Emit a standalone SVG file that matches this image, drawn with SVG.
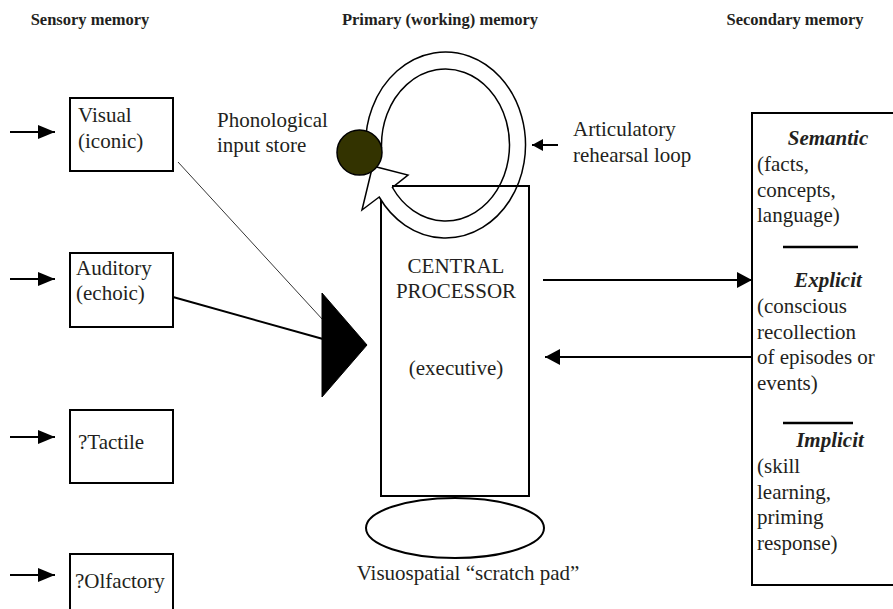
<svg xmlns="http://www.w3.org/2000/svg" width="893" height="609" viewBox="0 0 893 609">
<style>
text{font-family:"Liberation Serif","Times New Roman",serif;font-size:21px;fill:#231f20}
.h{font-weight:bold;font-size:16.5px}
.bi{font-weight:bold;font-style:italic}
.box{fill:#fff;stroke:#000;stroke-width:2}
.ln{stroke:#000;stroke-width:2;fill:none}
</style>
<defs>
<marker id="a1" markerUnits="userSpaceOnUse" markerWidth="17" markerHeight="14" refX="17" refY="7" orient="auto"><path d="M0,0 L17,7 L0,14 z" fill="#000"/></marker>
<marker id="a2" markerUnits="userSpaceOnUse" markerWidth="15" markerHeight="16" refX="15" refY="8" orient="auto"><path d="M0,0 L15,8 L0,16 z" fill="#000"/></marker>
<marker id="a3" markerUnits="userSpaceOnUse" markerWidth="11" markerHeight="12" refX="11" refY="6" orient="auto"><path d="M0,0 L11,6 L0,12 z" fill="#000"/></marker>
</defs>
<rect width="893" height="609" fill="#fff"/>
<g id="headers">
<text class="h" x="90" y="25" text-anchor="middle">Sensory memory</text>
<text class="h" x="440" y="25" text-anchor="middle">Primary (working) memory</text>
<text class="h" x="795" y="25" text-anchor="middle">Secondary memory</text>
</g>
<g id="visual"><rect class="box" x="70" y="98" width="103" height="73"/><text x="78" y="122">Visual</text><text x="78" y="148">(iconic)</text></g>
<g id="auditory"><rect class="box" x="70" y="253" width="103" height="74"/><text x="76" y="275">Auditory</text><text x="76" y="300">(echoic)</text></g>
<g id="tactile"><rect class="box" x="70" y="410" width="103" height="73"/><text x="78" y="449">?Tactile</text></g>
<g id="olfactory"><rect class="box" x="70" y="554" width="103" height="70"/><text x="75" y="588">?Olfactory</text></g>
<g id="central">
<rect class="box" x="381" y="186" width="148" height="310"/>
<text x="456" y="273" text-anchor="middle">CENTRAL</text>
<text x="456" y="298" text-anchor="middle">PROCESSOR</text>
<text x="456" y="375" text-anchor="middle">(executive)</text>
</g>
<g id="loop">
<path d="M365.55,148.25 A80,93 0 1 1 379.18,197 L362,210 L372.6,166 L408,175 L392.44,187.5 A64,76 0 1 0 381.54,147.65 Z" fill="#fff" stroke="#000" stroke-width="1.5"/>
<line x1="392" y1="186" x2="529" y2="186" stroke="#000" stroke-width="2"/>
</g>
<g id="phonological">
<circle cx="359.5" cy="152.5" r="22.5" fill="#333300" stroke="#000" stroke-width="1.5"/>
<text x="217" y="127">Phonological</text>
<text x="217" y="152">input store</text>
</g>
<g id="articulatory"><text x="573" y="136">Articulatory</text><text x="573" y="162">rehearsal loop</text></g>
<g id="scratchpad">
<ellipse cx="455" cy="528" rx="89" ry="30" fill="#fff" stroke="#000" stroke-width="2"/>
<text x="468" y="580" text-anchor="middle">Visuospatial “scratch pad”</text>
</g>
<g id="secondary">
<rect class="box" x="752" y="113" width="160" height="472"/>
<text class="bi" x="828" y="145" text-anchor="middle">Semantic</text>
<text x="757" y="171">(facts,</text>
<text x="757" y="197">concepts,</text>
<text x="757" y="222">language)</text>
<line x1="783" y1="247" x2="858" y2="247" stroke="#000" stroke-width="2.5"/>
<text class="bi" x="828" y="287" text-anchor="middle">Explicit</text>
<text x="757" y="313">(conscious</text>
<text x="757" y="339">recollection</text>
<text x="757" y="364">of episodes or</text>
<text x="757" y="390">events)</text>
<line x1="783" y1="423" x2="853" y2="423" stroke="#000" stroke-width="2.5"/>
<text class="bi" x="830" y="447" text-anchor="middle">Implicit</text>
<text x="757" y="473">(skill</text>
<text x="757" y="499">learning,</text>
<text x="757" y="524">priming</text>
<text x="757" y="550">response)</text>
</g>
<g id="connectors">
<line class="ln" x1="10" y1="132" x2="55" y2="132" marker-end="url(#a1)"/>
<line class="ln" x1="10" y1="279" x2="55" y2="279" marker-end="url(#a1)"/>
<line class="ln" x1="10" y1="437" x2="55" y2="437" marker-end="url(#a1)"/>
<line class="ln" x1="10" y1="575" x2="55" y2="575" marker-end="url(#a1)"/>
<line x1="178" y1="162" x2="323" y2="320" stroke="#000" stroke-width="0.8"/>
<line x1="173" y1="297" x2="323" y2="339" stroke="#000" stroke-width="2"/>
<polygon points="322,293 322,397 367,345" fill="#000" stroke="#000" stroke-width="1"/>
<line class="ln" x1="543" y1="280" x2="752" y2="280" marker-end="url(#a2)"/>
<line class="ln" x1="752" y1="357" x2="545" y2="357" marker-end="url(#a2)"/>
<line class="ln" x1="558" y1="145" x2="532" y2="145" marker-end="url(#a3)"/>
</g>
</svg>
